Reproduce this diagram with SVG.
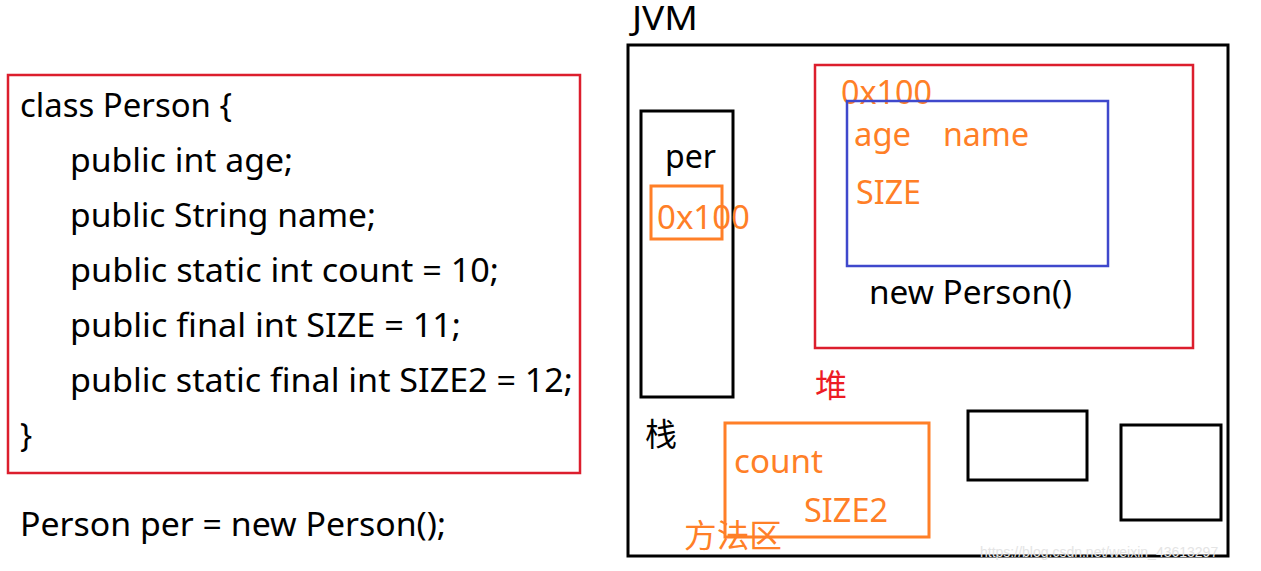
<svg xmlns="http://www.w3.org/2000/svg" width="1261" height="571" viewBox="0 0 1261 571">
<style>
.t{font-family:"Noto Sans","Open Sans","Noto Sans CJK SC",sans-serif;font-size:32px;fill:#000}
.o{fill:#ff7f27}
.r{fill:#ed1c24}
.box{fill:none;stroke:#000;stroke-width:3}
.rbox{fill:none;stroke:#dc1e2d;stroke-width:2.5}
.obox{fill:none;stroke:#ff7f27;stroke-width:3}
.bbox{fill:none;stroke:#3f48cc;stroke-width:2.5}
.wm{font-family:"Liberation Sans",sans-serif;font-size:14px;fill:#e4e4e4}
</style>
<rect width="1261" height="571" fill="#fff"/>
<g id="code">
<rect class="rbox" x="8" y="75" width="572" height="398"/>
<text class="t" x="20" y="117" textLength="212" lengthAdjust="spacingAndGlyphs">class Person {</text>
<text class="t" x="70" y="172" textLength="223" lengthAdjust="spacingAndGlyphs">public int age;</text>
<text class="t" x="70" y="227" textLength="306" lengthAdjust="spacingAndGlyphs">public String name;</text>
<text class="t" x="70" y="282" textLength="429" lengthAdjust="spacingAndGlyphs">public static int count = 10;</text>
<text class="t" x="70" y="337" textLength="391" lengthAdjust="spacingAndGlyphs">public final int SIZE = 11;</text>
<text class="t" x="70" y="392" textLength="503" lengthAdjust="spacingAndGlyphs">public static final int SIZE2 = 12;</text>
<text class="t" x="20" y="447">}</text>
</g>
<text id="decl" class="t" x="20" y="536" textLength="426" lengthAdjust="spacingAndGlyphs">Person per = new Person();</text>
<g id="jvm">
<text class="t" x="632" y="30" font-size="31" textLength="66" lengthAdjust="spacingAndGlyphs">JVM</text>
<rect class="box" x="628" y="45" width="600" height="511"/>
</g>
<g id="stack">
<rect class="box" x="641" y="111" width="92" height="286"/>
<text class="t" x="665" y="168" textLength="51" lengthAdjust="spacingAndGlyphs">per</text>
<rect class="obox" x="651" y="186" width="71" height="53"/>
<text class="t o" x="657" y="229" textLength="93" lengthAdjust="spacingAndGlyphs">0x100</text>
<text class="t" x="645" y="446">栈</text>
</g>
<g id="heap">
<rect class="rbox" x="815" y="65" width="378" height="283"/>
<text class="t o" x="841" y="104" textLength="91" lengthAdjust="spacingAndGlyphs">0x100</text>
<rect class="bbox" x="847" y="101" width="261" height="165"/>
<text class="t o" x="854" y="146" textLength="57" lengthAdjust="spacingAndGlyphs">age</text>
<text class="t o" x="943" y="146" textLength="86" lengthAdjust="spacingAndGlyphs">name</text>
<text class="t o" x="856" y="204" textLength="65" lengthAdjust="spacingAndGlyphs">SIZE</text>
<text class="t" x="869" y="304" textLength="203" lengthAdjust="spacingAndGlyphs">new Person()</text>
<text class="t r" x="815" y="397">堆</text>
</g>
<g id="method">
<rect class="obox" x="725" y="423" width="204" height="114"/>
<text class="t o" x="734" y="473" textLength="89" lengthAdjust="spacingAndGlyphs">count</text>
<text class="t o" x="804" y="522" textLength="84" lengthAdjust="spacingAndGlyphs">SIZE2</text>
<text class="t o" x="684" y="547" textLength="98" lengthAdjust="spacingAndGlyphs">方法区</text>
</g>
<g id="box1"><rect class="box" x="968" y="411" width="119" height="69"/></g>
<g id="box2"><rect class="box" x="1121" y="425" width="100" height="95"/></g>
<g id="connectors"></g>
<text class="wm" x="980" y="557">https://blog.csdn.net/weixin_43613297</text>
</svg>
